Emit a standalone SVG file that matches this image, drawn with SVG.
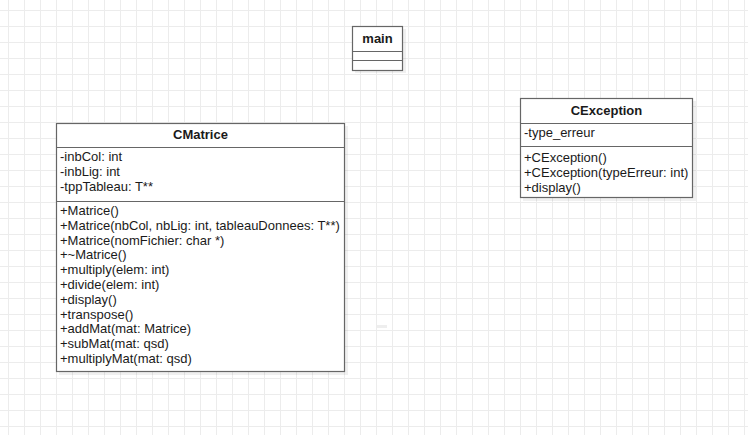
<svg xmlns="http://www.w3.org/2000/svg" width="748" height="435" viewBox="0 0 748 435">
<style>
  .box{fill:#ffffff;stroke:#666666;stroke-width:1.2}
  .shadow{fill:#000000;fill-opacity:0.06}
  .div{stroke:#666666;stroke-width:1.2}
  .t{font-family:"Liberation Sans",Arial,sans-serif;font-size:13px;fill:#1a1a1a}
  .h{font-family:"Liberation Sans",Arial,sans-serif;font-size:13px;font-weight:bold;fill:#1a1a1a;text-anchor:middle}
</style>
<defs>
  <pattern id="grid" x="8" y="10" width="16" height="16" patternUnits="userSpaceOnUse">
    <path d="M0.5 0 V16 M0 0.5 H16" fill="none" stroke="#ececec" stroke-width="1"/>
  </pattern>
</defs>
<rect width="748" height="435" fill="#ffffff"/>
<rect width="748" height="435" fill="url(#grid)"/>
<rect x="377" y="325" width="10" height="3" fill="#eeeeee"/>

<g id="main">
  <rect class="shadow" x="355" y="29" width="51" height="44"/>
  <rect class="box" x="352.5" y="26.5" width="50" height="44"/>
  <line class="div" x1="352.5" y1="51.5" x2="402.5" y2="51.5"/>
  <line class="div" x1="352.5" y1="60.5" x2="402.5" y2="60.5"/>
  <text class="h" x="377.5" y="43">main</text>
</g>

<g id="CMatrice">
  <rect class="shadow" x="59" y="126" width="289" height="249"/>
  <rect class="box" x="56.5" y="123.5" width="288" height="248"/>
  <line class="div" x1="56.5" y1="147.5" x2="344.5" y2="147.5"/>
  <line class="div" x1="56.5" y1="201.5" x2="344.5" y2="201.5"/>
  <text class="h" x="200.5" y="139">CMatrice</text>
  <text class="t" x="60" y="161">-inbCol: int</text>
  <text class="t" x="60" y="175.8">-inbLig: int</text>
  <text class="t" x="60" y="190.6">-tppTableau: T**</text>
  <text class="t" x="60" y="215">+Matrice()</text>
  <text class="t" x="60" y="229.8">+Matrice(nbCol, nbLig: int, tableauDonnees: T**)</text>
  <text class="t" x="60" y="244.6">+Matrice(nomFichier: char *)</text>
  <text class="t" x="60" y="259.4">+~Matrice()</text>
  <text class="t" x="60" y="274.2">+multiply(elem: int)</text>
  <text class="t" x="60" y="289">+divide(elem: int)</text>
  <text class="t" x="60" y="303.8">+display()</text>
  <text class="t" x="60" y="318.6">+transpose()</text>
  <text class="t" x="60" y="333.4">+addMat(mat: Matrice)</text>
  <text class="t" x="60" y="348.2">+subMat(mat: qsd)</text>
  <text class="t" x="60" y="363">+multiplyMat(mat: qsd)</text>
</g>

<g id="CException">
  <rect class="shadow" x="523" y="101" width="173" height="100"/>
  <rect class="box" x="520.5" y="98.5" width="172" height="99"/>
  <line class="div" x1="520.5" y1="123.5" x2="692.5" y2="123.5"/>
  <line class="div" x1="520.5" y1="146.5" x2="692.5" y2="146.5"/>
  <text class="h" x="606.5" y="115">CException</text>
  <text class="t" x="524" y="137">-type_erreur</text>
  <text class="t" x="524" y="162">+CException()</text>
  <text class="t" x="524" y="176.8">+CException(typeErreur: int)</text>
  <text class="t" x="524" y="191.6">+display()</text>
</g>

<g id="connectors"></g>
</svg>
